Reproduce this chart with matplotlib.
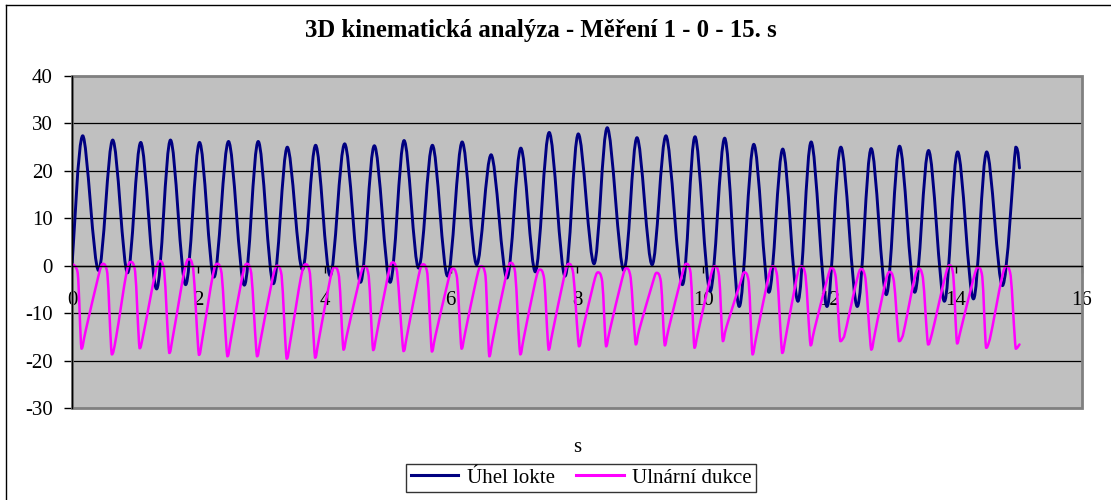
import matplotlib
matplotlib.use("Agg")
import matplotlib.pyplot as plt
from matplotlib.patches import Rectangle, PathPatch
from matplotlib.path import Path
from matplotlib.lines import Line2D

plt.rcParams['font.family'] = ['Liberation Serif', 'DejaVu Serif']

title = "3D kinematická analýza - Měření 1 - 0 - 15. s"
x_label = "s"
series_names = ["Úhel lokte", "Ulnární dukce"]
x_ticks = [0, 2, 4, 6, 8, 10, 12, 14, 16]
y_ticks = [-30, -20, -10, 0, 10, 20, 30, 40]

# Úhel lokte: turning points (time s, angle deg)
elbow_t = [0.00, 0.17, 0.42, 0.645, 0.88, 1.09, 1.34, 1.56, 1.80, 2.02, 2.25, 2.48,
           2.73, 2.95, 3.19, 3.41, 3.65, 3.86, 4.09, 4.32, 4.57, 4.79, 5.04, 5.26,
           5.49, 5.71, 5.95, 6.18, 6.41, 6.64, 6.89, 7.11, 7.34, 7.56, 7.81, 8.02,
           8.27, 8.48, 8.74, 8.95, 9.19, 9.41, 9.67, 9.87, 10.11, 10.34, 10.57, 10.80,
           11.04, 11.26, 11.50, 11.71, 11.96, 12.18, 12.44, 12.66, 12.90, 13.11, 13.35,
           13.57, 13.82, 14.03, 14.28, 14.49, 14.74, 14.95, 15.01]
elbow_v = [0.0, 27.4, -1.0, 26.5, -1.5, 26.0, -4.9, 26.5, -4.0, 26.0, -2.4, 26.2,
           -4.1, 26.2, -3.8, 25.0, -0.8, 25.4, -2.1, 25.7, -3.5, 25.3, -3.5, 26.4,
           -0.5, 25.4, -2.2, 26.1, 0.2, 23.4, -2.6, 24.8, -1.3, 28.1, -2.2, 27.8,
           0.4, 29.1, -1.0, 27.0, 0.2, 27.4, -4.0, 27.2, -5.4, 26.9, -8.6, 25.6,
           -5.6, 24.6, -7.5, 26.1, -8.6, 25.0, -8.6, 24.7, -6.1, 25.2, -5.6,
           24.3, -7.5, 24.0, -7.0, 24.0, -4.2, 25.0, 20.6]

# Ulnární dukce: per cycle approach, peak, shoulder, minimum, kink (time s, angle deg)
ulnar_t = [0.00, 0.09, 0.15, 0.22,
           0.42, 0.49, 0.56, 0.63, 0.70,
           0.86, 0.93, 1.00, 1.07, 1.13,
           1.32, 1.39, 1.46, 1.54, 1.60,
           1.78, 1.85, 1.92, 2.01, 2.07,
           2.23, 2.30, 2.37, 2.46, 2.52,
           2.70, 2.77, 2.84, 2.93, 2.99,
           3.18, 3.25, 3.32, 3.40, 3.46,
           3.63, 3.70, 3.77, 3.85, 3.91,
           4.09, 4.16, 4.23, 4.30, 4.36,
           4.56, 4.63, 4.70, 4.77, 4.83,
           5.01, 5.08, 5.15, 5.25, 5.31,
           5.49, 5.56, 5.63, 5.70, 5.76,
           5.96, 6.03, 6.10, 6.17, 6.23,
           6.41, 6.48, 6.55, 6.61, 6.67,
           6.88, 6.95, 7.02, 7.10, 7.16,
           7.34, 7.41, 7.48, 7.55, 7.61,
           7.80, 7.87, 7.94, 8.03, 8.09,
           8.26, 8.33, 8.40, 8.46, 8.52,
           8.71, 8.78, 8.85, 8.93, 8.99,
           9.19, 9.26, 9.33, 9.39, 9.45,
           9.66, 9.73, 9.80, 9.86, 9.92,
           10.11, 10.18, 10.25, 10.31, 10.37,
           10.58, 10.65, 10.72, 10.78, 10.84,
           11.03, 11.10, 11.17, 11.25, 11.31,
           11.48, 11.55, 11.62, 11.70, 11.76,
           11.96, 12.03, 12.10, 12.17, 12.23,
           12.43, 12.50, 12.57, 12.66, 12.72,
           12.88, 12.95, 13.02, 13.10, 13.16,
           13.34, 13.41, 13.48, 13.56, 13.62,
           13.83, 13.90, 13.96, 14.02, 14.08,
           14.28, 14.35, 14.42, 14.48, 14.54,
           14.73, 14.80, 14.87, 14.95, 15.01]
ulnar_v = [0.4, -1.5, -17.5, -13.5,
           -2.1, 0.4, -1.6, -18.7, -15.0,
           -1.7, 0.8, -1.2, -17.4, -14.5,
           -1.5, 1.0, -1.0, -18.4, -14.8,
           -1.1, 1.4, -0.6, -18.8, -15.0,
           -2.1, 0.4, -1.6, -19.1, -15.3,
           -2.1, 0.4, -1.6, -19.1, -15.5,
           -2.5, 0.0, -2.0, -19.6, -15.8,
           -2.2, 0.3, -1.7, -19.4, -15.6,
           -2.8, -0.3, -2.3, -17.7, -14.3,
           -2.6, -0.1, -2.1, -17.8, -14.2,
           -1.8, 0.7, -1.3, -18.0, -14.5,
           -2.2, 0.3, -1.7, -18.1, -14.6,
           -3.1, -0.6, -2.6, -17.5, -14.0,
           -2.6, -0.1, -2.1, -19.1, -15.3,
           -1.9, 0.6, -1.4, -18.7, -15.0,
           -3.3, -0.8, -2.8, -17.7, -14.2,
           -2.1, 0.4, -1.6, -17.0, -13.6,
           -3.9, -1.4, -3.4, -17.0, -13.6,
           -3.0, -0.5, -2.5, -16.6, -13.3,
           -4.0, -1.5, -3.5, -16.8, -13.4,
           -2.1, 0.4, -1.6, -17.3, -13.9,
           -2.6, -0.1, -2.1, -15.9, -12.8,
           -3.9, -1.4, -3.4, -18.7, -15.0,
           -2.6, -0.1, -2.1, -18.4, -14.8,
           -2.6, -0.1, -2.1, -16.8, -13.5,
           -3.0, -0.5, -2.5, -15.9, -15.0,
           -3.2, -0.7, -2.7, -17.7, -14.2,
           -3.8, -1.3, -3.3, -15.9, -14.8,
           -3.1, -0.6, -2.6, -16.6, -14.5,
           -2.4, 0.1, -1.9, -16.4, -13.5,
           -2.8, -0.3, -2.3, -17.3, -15.5,
           -2.6, -0.1, -2.1, -17.5, -16.6]


def smooth_path(xs, ys):
    """Excel-like smoothed line: cubic Bezier segments through the given points."""
    n = len(xs)
    verts = [(xs[0], ys[0])]
    codes = [Path.MOVETO]
    for i in range(n - 1):
        x0, y0 = xs[max(i - 1, 0)], ys[max(i - 1, 0)]
        x1, y1 = xs[i], ys[i]
        x2, y2 = xs[i + 1], ys[i + 1]
        x3, y3 = xs[min(i + 2, n - 1)], ys[min(i + 2, n - 1)]
        lo, hi = min(y1, y2), max(y1, y2)
        c1 = (x1 + (x2 - x0) / 6.0, min(max(y1 + (y2 - y0) / 6.0, lo), hi))
        c2 = (x2 - (x3 - x1) / 6.0, min(max(y2 - (y3 - y1) / 6.0, lo), hi))
        verts += [c1, c2, (x2, y2)]
        codes += [Path.CURVE4, Path.CURVE4, Path.CURVE4]
    return Path(verts, codes)


W, H = 1111, 500
fig = plt.figure(figsize=(W / 100, H / 100), dpi=100)
fig.patch.set_facecolor('white')

# outer chart border (top and left visible)
fig.add_artist(Line2D([6 / W, 1.0], [1 - 5 / H, 1 - 5 / H], transform=fig.transFigure,
                      color='black', lw=1.0))
fig.add_artist(Line2D([6 / W, 6 / W], [0, 1 - 5 / H], transform=fig.transFigure,
                      color='black', lw=1.0))

left, right, top, bottom = 72 / W, 1082 / W, 1 - 76 / H, 1 - 408 / H
ax = fig.add_axes([left, bottom, right - left, top - bottom])
ax.set_facecolor('#C0C0C0')
ax.set_xlim(0, 16)
ax.set_ylim(-30, 40)

for yv in y_ticks[1:]:
    ax.axhline(yv, color='black', lw=0.9, zorder=1)

ax.add_patch(Rectangle((0, 0), 1, 1, transform=ax.transAxes, fill=False,
                       edgecolor='#808080', lw=2.0, zorder=2, clip_on=False))

ax.add_patch(PathPatch(smooth_path(elbow_t, elbow_v), facecolor='none',
                       edgecolor='#000080', lw=2.1, zorder=3, capstyle='round',
                       joinstyle='round'))
ax.add_patch(PathPatch(smooth_path(ulnar_t, ulnar_v), facecolor='none',
                       edgecolor='#FF00FF', lw=1.8, zorder=4, capstyle='round',
                       joinstyle='round'))

for s in ['top', 'right']:
    ax.spines[s].set_visible(False)
ax.spines['left'].set_color('black')
ax.spines['left'].set_linewidth(1.0)
ax.spines['left'].set_zorder(5)
ax.spines['bottom'].set_position(('data', 0))
ax.spines['bottom'].set_color('black')
ax.spines['bottom'].set_linewidth(1.0)
ax.spines['bottom'].set_zorder(5)

ax.set_xticks(x_ticks)
ax.set_yticks(y_ticks)
ax.set_xticklabels([str(v) for v in x_ticks])
ax.set_yticklabels([str(v) for v in y_ticks])
ax.tick_params(axis='y', direction='out', length=6, width=1, pad=8, labelsize=15)
ax.tick_params(axis='x', direction='out', length=5, width=1, pad=13, labelsize=15)

fig.text(541 / W, 1 - 37.5 / H, title, ha='center', va='baseline', fontsize=17.8,
         fontweight='bold')
fig.text(577 / W, 1 - 447 / H, x_label, ha='center', va='center', fontsize=15)

handles = [Line2D([], [], color='#000080', lw=2.2), Line2D([], [], color='#FF00FF', lw=2.2)]
leg = fig.legend(handles, series_names, loc='center', bbox_to_anchor=(581 / W, 1 - 478 / H),
                 ncol=2, fontsize=15, frameon=True, fancybox=False, shadow=False,
                 handlelength=2.3, handletextpad=0.4, columnspacing=1.0,
                 borderpad=0.2, borderaxespad=0)
leg.get_frame().set_edgecolor('black')
leg.get_frame().set_linewidth(1.0)

fig.savefig('out.png', dpi=100, facecolor='white')
